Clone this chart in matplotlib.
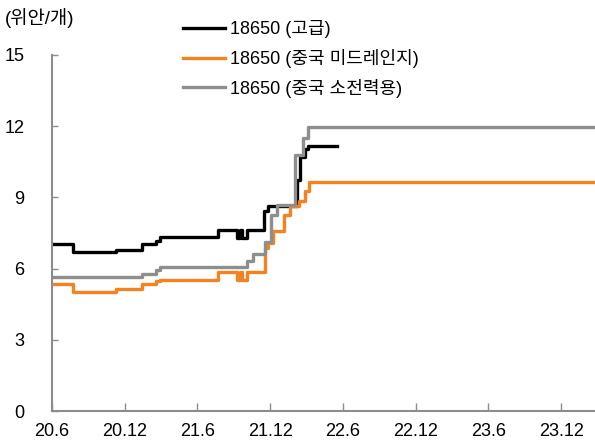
import matplotlib
matplotlib.use('Agg')
import matplotlib.pyplot as plt

plt.rcParams['font.family'] = ['Liberation Sans', 'Noto Sans CJK KR', 'DejaVu Sans']

# x = months since 2020-06
tick_pos = [0, 6, 12, 18, 24, 30, 36, 42]
tick_labels = ['20.6', '20.12', '21.6', '21.12', '22.6', '22.12', '23.6', '23.12']

black_x = [0, 1.7, 5.3, 7.4, 8.6, 8.9, 13.7, 15.25, 15.5, 15.7, 16.1, 17.5, 17.8, 20.2, 20.5, 20.9, 21.1, 23.5]
black_y = [7.05, 6.72, 6.8, 7.05, 7.18, 7.35, 7.62, 7.3, 7.62, 7.3, 7.62, 8.41, 8.65, 9.75, 10.7, 11.05, 11.15, 11.15]

orange_x = [0, 1.7, 5.3, 7.4, 8.6, 8.9, 13.7, 15.25, 15.5, 15.7, 16.1, 17.55, 17.85, 18.25, 19.1, 19.65, 20.4, 20.9, 21.2, 44.8]
orange_y = [5.35, 5.03, 5.15, 5.35, 5.46, 5.53, 5.84, 5.5, 5.84, 5.5, 5.84, 6.86, 7.07, 7.57, 8.27, 8.62, 8.83, 9.25, 9.65, 9.65]

gray_x = [0, 7.4, 8.6, 8.9, 16.05, 16.6, 17.55, 18.1, 18.6, 20.05, 20.7, 21.1, 44.8]
gray_y = [5.64, 5.78, 5.92, 6.06, 6.3, 6.62, 7.14, 8.27, 8.69, 10.8, 11.5, 11.97, 11.97]

labels = ['18650 (고급)', '18650 (중국 미드레인지)', '18650 (중국 소전력용)']
colors = ['#000000', '#F58220', '#8E8E8E']

fig = plt.figure(figsize=(5.95, 4.43), dpi=100)
ax = fig.add_axes([52 / 595, 1 - 411 / 443, 1 - 52 / 595, (411 - 55) / 443])

ax.step(black_x, black_y, where='post', color=colors[0], lw=2.4, label=labels[0])
ax.step(orange_x, orange_y, where='post', color=colors[1], lw=2.4, label=labels[1])
ax.step(gray_x, gray_y, where='post', color=colors[2], lw=2.4, label=labels[2])

ax.set_xlim(0, 44.8)
ax.set_ylim(0, 15)
ax.set_yticks([0, 3, 6, 9, 12, 15])
ax.set_xticks(tick_pos)
ax.set_xticklabels(tick_labels)

for s in ['top', 'right']:
    ax.spines[s].set_visible(False)
for s in ['left', 'bottom']:
    ax.spines[s].set_color('#8C8C8C')
    ax.spines[s].set_linewidth(1.5)

ax.tick_params(axis='x', direction='in', length=6, width=1, color='#8C8C8C', pad=9, labelsize=13)
ax.tick_params(axis='y', direction='in', length=4, width=1, color='#8C8C8C', pad=20, labelsize=13)

fig.text(5 / 595, 1 - 18 / 443, '(위안/개)', fontsize=13.5, va='center', ha='left')

ax.legend(loc='upper left', bbox_to_anchor=(183 / 595, 1 - 20 / 443), bbox_transform=fig.transFigure,
          frameon=False, fontsize=13, handlelength=2.3, handletextpad=0.3, labelspacing=0.6,
          borderpad=0, borderaxespad=0)

fig.savefig('out.png', dpi=100)
